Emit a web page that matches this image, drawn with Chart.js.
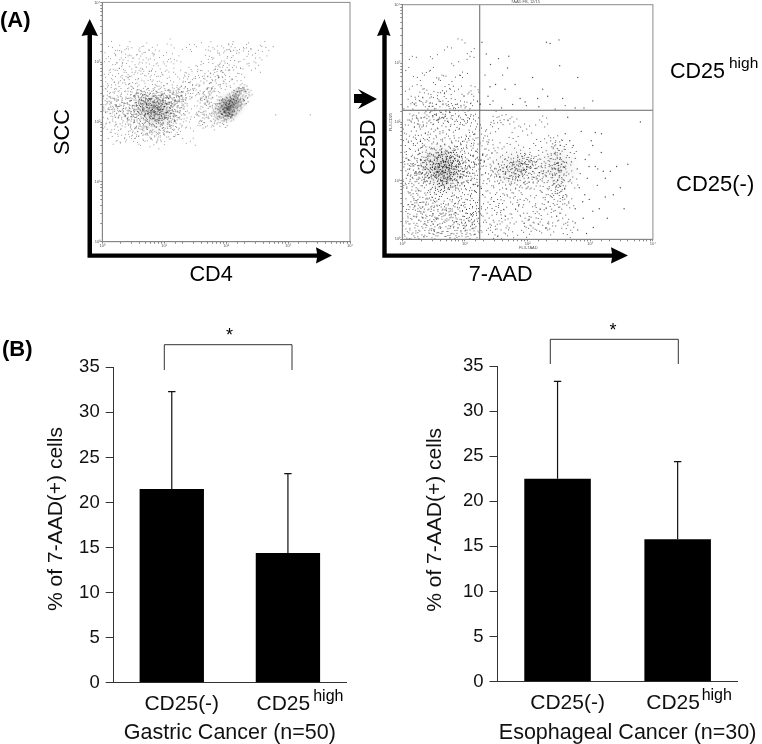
<!DOCTYPE html>
<html><head><meta charset="utf-8">
<style>
html,body{margin:0;padding:0;background:#fff;overflow:hidden;width:762px;height:744px}
canvas,svg{position:absolute}
.t{position:absolute;white-space:nowrap;font-family:"Liberation Sans",Arial,sans-serif;color:#000;line-height:1}
</style>
<script src="https://cdn.jsdelivr.net/npm/chart.js@4"></script>
</head><body>
<canvas id="a1" width="304" height="288" style="left:50px;top:0"></canvas>
<canvas id="a2" width="300" height="288" style="left:356px;top:0"></canvas>
<canvas id="b1" width="328" height="401" style="left:44px;top:345px"></canvas>
<canvas id="b2" width="339.5" height="401" style="left:422.5px;top:345px"></canvas>
<svg width="762" height="744" style="left:0;top:0;pointer-events:none">
<g fill="#000">
<polygon points="87.5,258 87.5,35 81.5,36 89.7,19 98,36 92,35 92,253.4 317,253.4 316,247.3 332,255.6 316,263.5 317,257.8 87.5,257.8"/>
<polygon points="382.3,258 382.3,35 377,36 384.5,19 390.5,36 386.7,35 386.7,253.4 612,253.4 611,247.3 628,255.6 611,263.5 612,257.8 382.3,257.8"/>
<polygon points="354,94 362,94 358,89 377,99 358,109 362,103 354,103"/>
</g>
<g fill="none" stroke="#333" stroke-width="1">
<polyline points="164.3,370 164.3,344.7 292,344.7 292,370"/>
<polyline points="550.3,364 550.3,339.3 678.3,339.3 678.3,364"/>
</g>
</svg>
<div class="t" style="left:0;top:9px;font-size:22px;font-weight:bold">(A)</div>
<div class="t" style="left:2px;top:338px;font-size:22px;font-weight:bold">(B)</div>
<div class="t" style="left:670px;top:61px;font-size:21.5px">CD25</div>
<div class="t" style="left:729px;top:55px;font-size:15.5px">high</div>
<div class="t" style="left:676px;top:173px;font-size:22px">CD25(-)</div>
<div class="t" style="left:226px;top:326px;font-size:18px">*</div>
<div class="t" style="left:609.5px;top:320.5px;font-size:18px">*</div>
<div class="t" style="left:511px;top:0;font-size:4px;color:#555">7AAD FB, 12/15</div>
<div class="t" style="left:519px;top:246px;font-size:4px;color:#555">FL3-7AAD</div>
<div class="t" style="left:382px;top:120px;font-size:4px;color:#555;transform:rotate(-90deg)">FL4-CD25</div>
<script>
// ---- data -----------------------------------------------------------
const barCategories = ["CD25(-)", "CD25"];
const gastricMeans = [21.5, 14.4];
const gastricErrorTops = [32.3, 23.2];
const esophagealMeans = [22.5, 15.8];
const esophagealErrorTops = [33.3, 24.4];
const percentTicks = [0, 5, 10, 15, 20, 25, 30, 35];
const decadeLabels = {1:"10\u2070",10:"10\u00b9",100:"10\u00b2",1000:"10\u00b3",10000:"10\u2074"};
const gateX7AAD = 309;      // channel of the vertical gate
const gateYCD25 = 550;      // channel of the horizontal gate

// Flow-cytometry events: x,y pairs in log channels (250 channels per decade).
const cd4SccCloud = [12,640,25,700,33,765,41,812,58,748,66,668,78,790,85,720,94,630,103,815,112,690,120,752,131,610,139,780,148,655,155,725,167,818,174,602,186,760,193,688,205,640,214,801,226,735,238,665,247,778,256,612,269,709,278,822,290,640,301,756,312,680,325,603,340,812,18,585,29,620,47,600,53,690,71,575,89,675,98,745,117,590,126,640,143,705,160,675,178,730,199,715,219,690,233,625,263,660,285,592,8,700,15,765,37,655,62,800,75,640,108,660,135,730,152,795,182,640,210,760,242,700,275,765,296,700,330,640,350,700,365,620,380,815,395,630,410,660,430,815,455,640,6,610,22,555,44,720,81,600,96,690,122,665,158,620,171,695,201,670,228,600,252,640,22,660,52,640,68,725,102,640,128,700,165,760,190,800,222,650,258,735,305,620,35,585,60,610,84,760,110,780,145,620,5,520,14,545,30,535,45,560,69,548,11,590,3,650,2,560];
const cd4SccMain = [96,560,104,535,112,590,118,512,124,570,130,545,134,600,140,525,145,560,150,495,154,580,158,540,162,610,166,515,170,555,174,590,178,475,182,535,186,570,190,505,194,620,198,548,202,585,206,490,210,530,214,565,218,600,222,510,226,550,230,470,234,585,238,530,242,620,246,495,250,565,254,540,258,600,262,480,266,520,270,575,274,610,278,505,282,550,286,630,290,530,294,590,298,495,302,560,306,610,312,540,318,585,324,625,330,555,338,600,344,640,120,625,128,500,136,475,144,610,152,530,160,470,168,575,176,520,184,610,192,455,200,560,208,620,216,480,224,590,232,515,240,555,248,450,256,585,264,540,272,490,280,600,288,465,296,525,304,580,166,590,190,540,210,550,220,560,196,570,228,575,244,545,206,515,184,555,172,530,236,570,214,535,252,575,152,600,176,565,160,545,142,545,200,600,222,530,260,555,276,535,226,600,250,520,268,600,192,530,232,540,210,585,128,555,116,545,102,575,148,580,186,590,248,590,292,575,310,590,90,530,80,590,74,545,84,505,60,565,66,525,50,545,40,600,30,575];
const cd4SccLower = [30,500,48,470,62,480,78,445,92,480,106,460,118,430,130,472,146,440,160,455,172,420,184,445,198,430,212,460,226,438,238,418,250,445,262,462,276,430,290,470,304,448,320,480,338,505,356,475,372,520,390,545,410,498,20,470,40,440,56,420,98,425,142,415,208,405,35,525,10,480,122,445,180,480,234,465,270,505,330,530,360,555,395,580,420,520,440,480,355,420];
const cd4SccArm = [300,625,318,650,336,618,352,665,366,640,376,690,390,650,402,715,414,680,424,640,436,705,446,745,456,672,466,720,474,780,484,690,492,755,502,802,512,720,522,770,532,660,542,730,552,790,562,700,572,762,582,810,592,735,606,780,618,725,630,800,644,760,660,812,376,610,398,600,420,605,442,640,462,610,480,640,500,660,518,645,540,690,556,640,408,745,432,775,452,805,470,690,494,700,514,690,408,625,388,695,358,720,344,680,425,690,448,700,468,655,486,730,505,745,455,690,475,730,530,800,570,812,520,815,490,810];
const cd4SccOutliers = [690,815,700,530,840,530];
const cd4SccTight = [462,530,470,565,476,545,482,590,488,520,494,560,498,540,502,580,506,550,510,565,514,535,518,590,522,555,526,610,530,575,534,545,538,620,542,590,546,560,552,630,558,600,564,575,572,640,580,610,592,625,456,555,468,510,480,535,490,575,496,525,500,570,504,555,508,540,512,575,516,555,520,570,524,585,528,595,536,600,544,625,550,585,562,630,574,590,486,555,492,540,498,590,504,600,510,525,518,520,526,530,534,570,474,590,444,570,430,600,420,570,398,540,412,595,436,630,442,525,420,530,405,490,452,495,490,490,560,640];
const cd4SccDensity = [214,557,175,575,245,535,205,510,510,558,518,566,500,548,535,585];

const aadCd25Upper = [22,565,35,610,48,575,60,690,70,590,82,640,92,565,104,620,112,720,120,580,132,660,140,600,150,565,158,700,168,625,178,570,186,660,195,600,205,740,212,575,224,640,232,590,240,690,250,560,262,620,270,780,280,570,290,650,14,720,40,780,55,570,75,655,98,590,126,630,145,680,162,590,192,640,218,575,246,610,300,590,28,640,65,610,88,700,110,580,135,575,152,625,175,600,200,570,228,700,258,585,285,610,238,850,275,800,180,820,120,770];
const aadCd25UpperRight = [318,840,330,700,342,610,352,745,362,590,372,660,384,770,396,560,410,640,420,730,440,575,470,600,495,570,520,690,545,565,560,640,575,840,590,835,625,850,628,740,640,600,690,560,700,690,350,575,400,700,425,780,450,660,490,585,580,610,610,555,650,570,725,560,760,590,350,650,540,600,310,575,335,790];
const aadCd25Main = [30,300,42,260,48,350,55,220,60,410,66,300,70,180,75,340,80,265,84,430,88,220,92,310,96,380,100,270,104,150,108,330,112,240,116,470,120,295,124,360,128,200,132,320,136,260,140,410,144,170,148,290,152,350,156,230,160,520,164,310,168,270,172,380,176,200,180,330,184,440,188,280,192,130,196,350,200,250,204,300,208,490,212,210,216,370,220,280,224,160,228,330,232,410,236,240,240,300,244,510,248,190,252,350,256,270,260,110,264,430,268,310,272,220,276,380,280,140,284,330,288,260,292,470,296,200,300,350,304,90,38,210,52,400,62,170,72,470,86,350,94,150,106,420,118,180,126,510,134,380,142,120,150,450,158,250,166,100,174,480,182,240,190,390,198,160,206,310,214,420,222,240,230,120,238,380,246,330,254,170,262,290,270,440,278,260,286,410,294,320,302,230,158,295,162,310,170,285,178,305,150,275,165,265,172,320,155,330,185,295,145,310,190,260,160,345,178,240,135,285,120,330,200,325,142,250,175,350,205,275,128,300,212,310,112,285,218,250,100,300,226,290,90,265,234,310,78,310,148,225,168,225,188,345,208,345,158,360,178,375,138,345,118,360,220,360,70,260,58,335,44,295,24,340,16,260,10,320,6,230,12,400,28,440,36,500,46,530,64,505,82,500,98,530,110,540,136,535,148,520,170,525,190,540,212,535,230,490,250,540,272,525,292,505,34,160,50,140,68,120,82,90,102,80,122,110,140,60,155,150,175,125,195,95,216,75,236,145,256,60,276,85,296,130];
const aadCd25Lower = [8,20,15,70,22,110,30,40,38,85,46,15,54,60,62,130,70,35,78,95,86,10,94,50,102,125,110,25,118,75,126,40,134,15,142,90,150,55,158,25,166,75,174,12,182,45,190,105,198,25,206,70,214,15,222,50,230,85,238,25,246,60,254,10,262,90,270,40,278,70,286,20,294,55,302,35,18,5,66,3,130,2,210,4,270,3,5,140,3,220,2,350,4,470,2,90];
const aadCd25Right = [312,300,322,420,330,180,338,360,346,90,352,270,360,480,368,300,374,140,382,390,388,240,394,40,400,330,406,510,412,280,418,190,424,350,430,70,436,300,442,430,448,240,454,330,460,120,466,290,472,380,478,220,484,30,490,320,496,470,502,260,508,160,514,345,520,290,526,70,532,400,538,240,544,310,550,130,556,500,562,280,568,350,574,190,580,40,586,310,592,420,598,230,604,120,610,340,616,280,622,380,628,200,634,320,640,90,646,250,652,300,658,20,664,160,670,370,676,240,325,250,340,440,355,60,365,220,378,520,392,115,405,265,420,15,432,210,445,500,458,300,468,340,476,290,486,260,498,310,510,310,522,240,534,330,546,270,558,200,570,305,582,250,594,365,606,170,612,300,618,350,620,250,624,315,626,270,628,230,630,400,632,295,634,340,636,205,612,420,618,195,622,300,308,350,316,130,440,320,452,280,470,310,480,345,492,285,520,330,430,270,500,340,460,250,400,290,350,320,375,300,415,310,345,380,380,170,490,90,530,110,560,60,590,140,640,150,660,60,600,70,510,60,470,170,440,150,410,100,360,30];
const aadCd25Far = [682,400,690,130,698,300,706,220,714,460,722,90,730,340,738,260,746,170,754,420,762,50,770,310,778,230,786,130,794,370,802,290,810,180,818,90,830,290,842,190,855,310,870,220,885,130,900,320,690,345,710,280,728,190,745,310,760,400,780,300,795,450,650,450,668,420,700,40,735,25,690,70,720,160,760,120,810,260,950,500,770,455,745,360,675,330,660,520];
const aadCd25Density = [162,300,150,330,175,270,440,310,620,310];

// Each listed event stands for a small clump of dots: the picture holds thousands of events,
// so the point style is a fixed speck pattern (offsets in pixels around the point).
const speckA = [0,0,-4,2,3,-3,5,4,-2,-5,-6,-2,1,6];
const speckB = [0,0,4,1,-3,3,2,-5,-5,-3,6,-1,-1,5];
const speckC = [0,0,-2,-2,5,-4,-6,3,3,5,1,-6,6,2];
const speckD = [0,0,3,3,-4,-1,-1,-6,5,-2,-3,6,-6,5];

// ---- helpers ---------------------------------------------------------
const FONT = '"Liberation Sans", Arial, sans-serif';
Chart.defaults.font.family = FONT;
Chart.defaults.color = '#000';
const fromChannel = c => Math.pow(10, c / 250);
function toPoints(pairs){ const out=[]; for(let i=0;i<pairs.length;i+=2) out.push({x:fromChannel(pairs[i]),y:fromChannel(pairs[i+1])}); return out; }
function softBlob(size, alpha){
  const c=document.createElement('canvas'); c.width=c.height=size;
  const g=c.getContext('2d'), r=size/2, grad=g.createRadialGradient(r,r,0,r,r,r);
  grad.addColorStop(0,'rgba(20,20,20,'+alpha+')'); grad.addColorStop(1,'rgba(20,20,20,0)');
  g.fillStyle=grad; g.fillRect(0,0,size,size); return c;
}
function speck(offsets,count,alpha,scale){
  const c=document.createElement('canvas'); c.width=c.height=19;
  const g=c.getContext('2d'); g.fillStyle='rgba(20,20,20,'+alpha+')';
  for(let i=0;i<count*2&&i<offsets.length;i+=2) g.fillRect(9+offsets[i]*scale,9+offsets[i+1]*scale,1,1);
  return c;
}
function speckSet(count,alpha,scale){ return [speckA,speckB,speckC,speckD].map(o=>speck(o,count,alpha,scale)); }
// Places an axis title at its position in the picture, relative to the axis centre.
function nudgeTitle(scale,dx,dy){
  const draw=scale.drawTitle;
  scale.drawTitle=function(){
    const {left,right,top,bottom}=this;
    if(this.isHorizontal()){ this.left=left+dx-80; this.right=right+dx+80; }
    else { this.top=top+dy-80; this.bottom=bottom+dy+80; }
    draw.call(this);
    this.left=left; this.right=right; this.top=top; this.bottom=bottom;
  };
  scale.drawTitle.__n=1;
}
const framePlugin={id:'frame',afterDatasetsDraw(c){
  const a=c.chartArea,x=c.ctx; x.save(); x.strokeStyle='#8a8a8a'; x.lineWidth=1;
  x.strokeRect(a.left,a.top,a.width,a.height); x.restore();
}};
function flowChart(id,opts){
  const logAxis=(title,size,dx,dy)=>({
    type:'logarithmic',min:1,max:10000,
    afterFit(s){ size(s); if(!s.drawTitle.__n) nudgeTitle(s,dx,dy); },
    title:{display:true,text:title,font:{size:21.7},padding:0,color:'#000'},
    border:{color:'#777',width:1},
    grid:{drawOnChartArea:false,color:'#666',tickLength:2,lineWidth:.8},
    ticks:{autoSkip:false,maxRotation:0,minRotation:0,padding:0,color:'#555',font:{size:4},
      callback:v=>decadeLabels[Math.round(v)]&&Math.abs(Math.log10(v)%1)<1e-6?decadeLabels[Math.round(v)]:''}
  });
  return new Chart(document.getElementById(id),{
    type:'scatter',plugins:[framePlugin],
    data:{datasets:opts.datasets},
    options:{responsive:false,animation:false,events:[],layout:{padding:opts.padding,autoPadding:false},
      plugins:{legend:{display:false},tooltip:{enabled:false}},
      scales:{x:logAxis(opts.xTitle,s=>{s.height=opts.xHeight;},opts.xNudge,0),
              y:logAxis(opts.yTitle,s=>{s.width=opts.yWidth;},0,opts.yNudge)}}
  });
}
function dots(pairs,color,r){ return {data:toPoints(pairs),backgroundColor:color,borderWidth:0,pointRadius:r,pointStyle:'circle'}; }
function clumps(pairs,set){ return {data:toPoints(pairs),pointStyle:c=>set[c.dataIndex%set.length],pointRadius:9,borderWidth:0}; }
function blobs(pairs,img){ return {data:toPoints(pairs),pointStyle:img,pointRadius:img.width/2,borderWidth:0}; }

flowChart('a1',{
  xTitle:'CD4',yTitle:'SCC',xHeight:46.3,yWidth:52.3,xNudge:-15,yNudge:10,
  padding:{top:1,right:4,left:0,bottom:0},
  datasets:[
    dots(cd4SccOutliers,'rgba(120,120,120,.7)',.7),
    clumps(cd4SccCloud,speckSet(4,.42,1)),
    clumps(cd4SccMain,speckSet(7,.5,1)),
    clumps(cd4SccLower,speckSet(4,.42,1)),
    clumps(cd4SccArm,speckSet(4,.45,1)),
    clumps(cd4SccTight,speckSet(7,.55,.6)),
    blobs(cd4SccDensity,softBlob(30,.1))
  ]
});
const gateDataset=(pts)=>({type:'line',data:pts,borderColor:'#666',borderWidth:1,pointRadius:0,showLine:true});
flowChart('a2',{
  xTitle:'7-AAD',yTitle:'C25D',xHeight:48.7,yWidth:46.3,xNudge:-27,yNudge:25,
  padding:{top:4.7,right:0,left:0,bottom:0},
  datasets:[
    gateDataset([{x:fromChannel(gateX7AAD),y:1},{x:fromChannel(gateX7AAD),y:10000}]),
    gateDataset([{x:1,y:fromChannel(gateYCD25)},{x:10000,y:fromChannel(gateYCD25)}]),
    clumps(aadCd25Upper,speckSet(3,.7,1)),
    dots(aadCd25UpperRight,'rgba(40,40,40,.8)',.7),
    clumps(aadCd25Main,speckSet(7,.72,1)),
    clumps(aadCd25Lower,speckSet(5,.65,1)),
    clumps(aadCd25Right,speckSet(7,.7,1)),
    dots(aadCd25Far,'rgba(40,40,40,.8)',.7),
    blobs(aadCd25Density,softBlob(50,.07))
  ]
});

const errorPlugin={id:'errorBars',afterDatasetsDraw(c,_,o){
  const x=c.ctx,sx=c.scales.x,sy=c.scales.y,m=o.tops;
  x.save(); x.strokeStyle='#111'; x.lineWidth=1.2;
  m.forEach((top,i)=>{
    const px=sx.getPixelForTick(i),p0=sy.getPixelForValue(o.means[i]),p1=sy.getPixelForValue(top);
    x.beginPath(); x.moveTo(px,p0); x.lineTo(px,p1); x.moveTo(px-3.7,p1); x.lineTo(px+3.7,p1); x.stroke();
  });
  // superscript of the second category label
  x.fillStyle='#000'; x.font='16px '+FONT; x.textBaseline='alphabetic'; x.textAlign='left';
  x.fillText(o.superscript,sx.getPixelForTick(1)+o.supDx,sy.getPixelForValue(0)+18);
  x.restore();
}};
function barChart(id,means,tops,o){
  return new Chart(document.getElementById(id),{
    type:'bar',plugins:[errorPlugin],
    data:{labels:barCategories,datasets:[{data:means,backgroundColor:'#000',borderWidth:0,barPercentage:.554,categoryPercentage:1}]},
    options:{responsive:false,animation:false,events:[],layout:{padding:o.padding,autoPadding:false},
      plugins:{legend:{display:false},tooltip:{enabled:false},
        errorBars:{means,tops,superscript:'high',supDx:o.supDx}},
      scales:{
        x:{afterFit(s){ s.height=o.xHeight; if(!s.drawTitle.__n) nudgeTitle(s,o.xNudge,0); },
           title:{display:true,text:o.xTitle,font:{size:21.5},padding:0,color:'#111'},
           border:{color:'#333',width:1},grid:{display:false},
           ticks:{padding:1,labelOffset:10,maxRotation:0,autoSkip:false,font:{size:21},color:'#111',
             callback:(v,i)=>barCategories[i]+(i===1?'\u00a0\u00a0\u00a0\u00a0\u00a0':'')}},
        y:{min:0,max:35,
           afterBuildTicks(s){ s.ticks=percentTicks.map(v=>({value:v})); },
           afterFit(s){ s.width=o.yWidth; if(!s.drawTitle.__n) nudgeTitle(s,0,o.yNudge); },
           title:{display:true,text:'% of 7-AAD(+) cells',font:{size:21},padding:0,color:'#111'},
           border:{color:'#333',width:1},
           grid:{drawOnChartArea:false,color:'#333',tickLength:8},
           ticks:{padding:6,font:{size:18.5},color:'#111'}}
      }}
  });
}
barChart('b1',gastricMeans,gastricErrorTops,{padding:{top:22.3,right:26,left:0,bottom:0},xHeight:63.3,yWidth:69.7,xTitle:'Gastric Cancer (n=50)',xNudge:0,yNudge:-6,supDx:25.3});
barChart('b2',esophagealMeans,esophagealErrorTops,{padding:{top:21,right:24.3,left:0,bottom:0},xHeight:64.3,yWidth:74.5,xTitle:'Esophageal Cancer (n=30)',xNudge:10,yNudge:-4,supDx:24});
</script>
</body></html>
